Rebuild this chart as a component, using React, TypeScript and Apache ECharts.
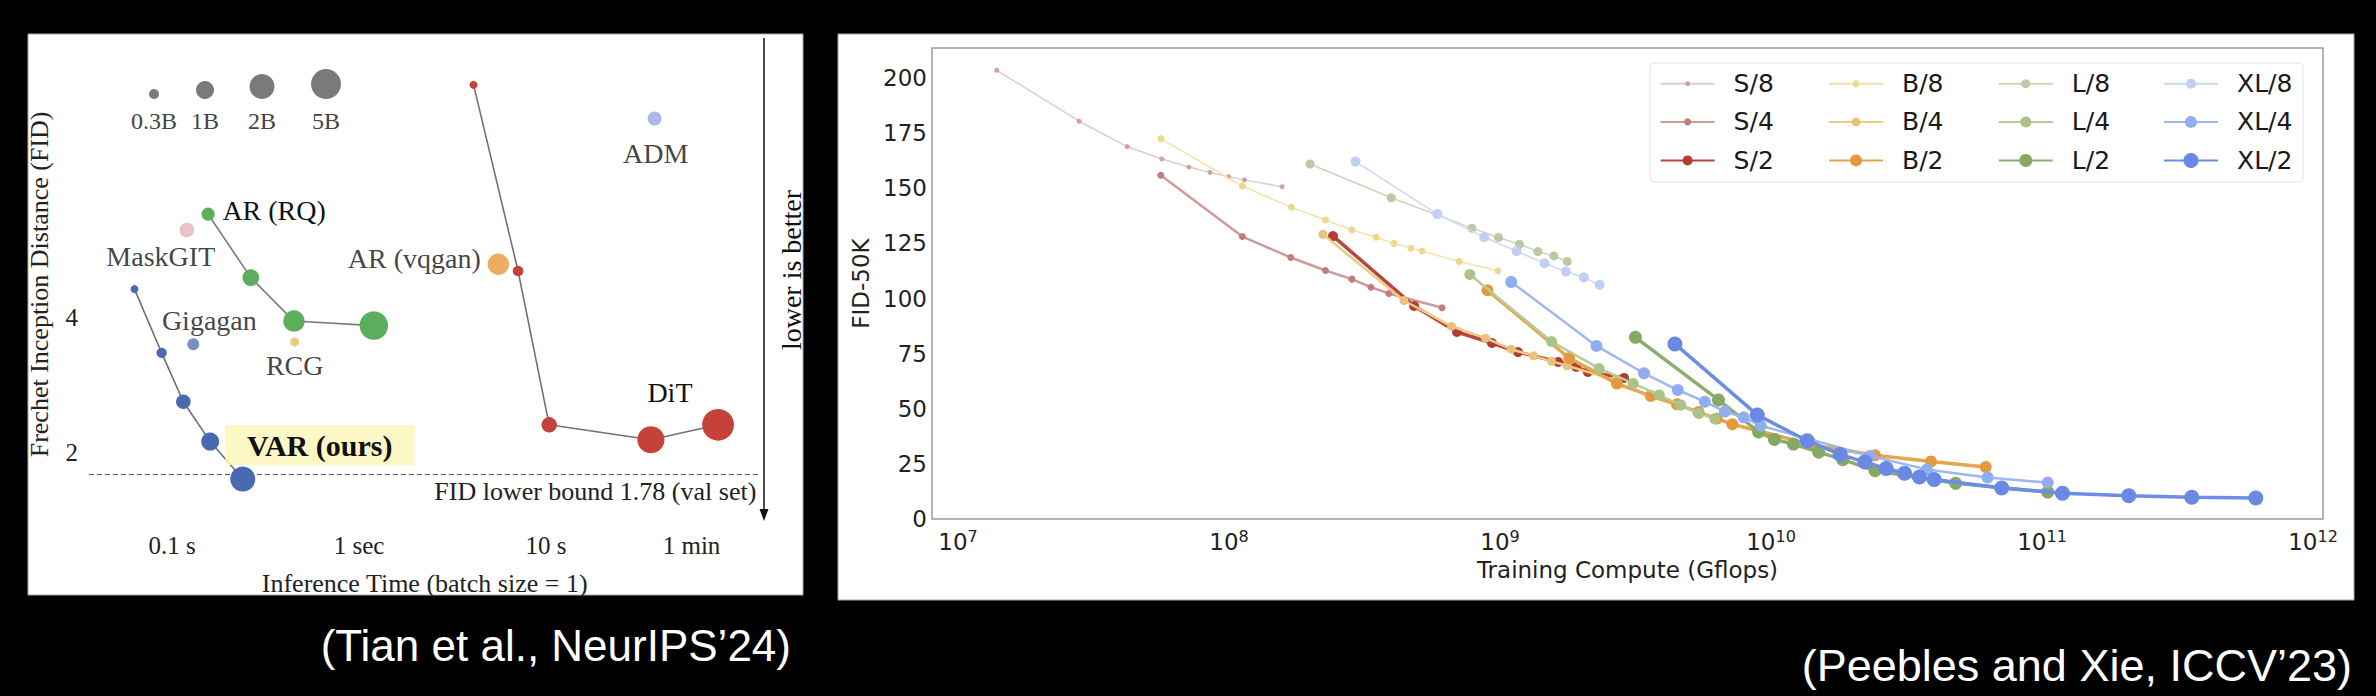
import React, { useEffect, useRef } from 'react';
import * as echarts from 'echarts';

const W = 2376;
const H = 696;

// ================= Left chart (Tian et al., NeurIPS'24) =================
const sizeLegendParams = [0.3, 1, 2, 5];
const sizeLegendLabels = ['0.3B', '1B', '2B', '5B'];

const varTime = [0.063, 0.088, 0.115, 0.16, 0.239];
const varFid = [4.62, 3.33, 2.59, 2.11, 1.74];
const varParams = [0.15, 0.31, 0.6, 1.0, 2.0];

const rqTime = [0.156, 0.264, 0.449, 1.2];
const rqFid = [6.79, 4.9, 3.92, 3.83];
const rqParams = [0.48, 0.82, 1.4, 3.8];

const ditTime = [4.1, 7.09, 10.4, 36.4, 83.2];
const ditFid = [13.2, 5.07, 2.3, 2.13, 2.3];
const ditParams = [0.13, 0.33, 0.675, 3, 7];

const singleNames = ['MaskGIT', 'Gigagan', 'RCG', 'AR (vqgan)', 'ADM'];
const singleTime = [0.12, 0.13, 0.453, 5.56, 38.1];
const singleFid = [6.26, 3.48, 3.52, 5.25, 11.1];
const singleParams = [0.6, 0.4, 0.25, 1.4, 0.55];

const fidLowerBound = 1.78;
const timeTicks = [0.1, 1, 10, 60];
const timeTickLabels = ['0.1 s', '1 sec', '10 s', '1 min'];
const fidTicks = [2, 4];

// ================= Right chart (Peebles and Xie, ICCV'23) =================
const modelNames = ['S/8', 'S/4', 'S/2', 'B/8', 'B/4', 'B/2', 'L/8', 'L/4', 'L/2', 'XL/8', 'XL/4', 'XL/2'];

const s8Flops = [1.39e7, 2.8e7, 4.21e7, 5.65e7, 7.11e7, 8.51e7, 9.97e7, 1.14e8, 1.57e8];
const s8Fid = [203.5, 180.4, 168.9, 163.3, 159.6, 157.2, 155.2, 153.8, 150.7];
const s4Flops = [5.6e7, 1.12e8, 1.69e8, 2.27e8, 2.84e8, 3.34e8, 3.89e8, 6.11e8];
const s4Fid = [155.9, 128.1, 118.6, 112.7, 108.8, 105.1, 102.3, 95.8];
const s2Flops = [2.42e8, 4.82e8, 6.94e8, 9.34e8, 1.165e9, 1.64e9, 1.91e9, 2.11e9, 2.87e9];
const s2Fid = [128.3, 96.6, 84.8, 79.8, 75.7, 71.2, 69.0, 66.7, 64.0];

const b8Flops = [5.61e7, 1.12e8, 1.7e8, 2.27e8, 2.84e8, 3.49e8, 4.06e8, 4.69e8, 5.15e8, 7.06e8, 9.83e8];
const b8Fid = [172.5, 151.0, 141.4, 135.6, 131.1, 127.8, 125.0, 122.8, 121.5, 116.8, 112.6];
const b4Flops = [2.22e8, 4.42e8, 6.62e8, 8.85e8, 1.1e9, 1.33e9, 1.55e9, 1.77e9, 2.66e9];
const b4Fid = [129.1, 99.1, 87.4, 82.0, 77.0, 74.0, 71.5, 69.5, 63.0];
const b2Flops = [9.0e8, 1.8e9, 2.7e9, 3.6e9, 4.5e9, 5.4e9, 6.3e9, 7.2e9, 1.44e10, 2.42e10, 3.89e10, 6.2e10];
const b2Fid = [103.7, 73.0, 61.4, 55.8, 52.0, 48.5, 45.5, 43.0, 33.5, 28.9, 26.1, 23.6];

const l8Flops = [1.99e8, 3.97e8, 7.88e8, 9.87e8, 1.18e9, 1.38e9, 1.58e9, 1.77e9];
const l8Fid = [161.0, 145.7, 131.9, 127.7, 124.6, 121.3, 119.3, 116.8];
const l4Flops = [7.74e8, 1.55e9, 2.32e9, 3.1e9, 3.87e9, 4.64e9, 5.42e9, 6.2e9];
const l4Fid = [110.9, 80.5, 68.3, 61.5, 56.2, 51.7, 47.9, 45.5];
const l2Flops = [3.16e9, 6.4e9, 9.0e9, 1.03e10, 1.21e10, 1.5e10, 1.84e10, 2.42e10, 4.8e10, 1.05e11];
const l2Fid = [82.4, 54.0, 39.5, 36.1, 34.0, 30.3, 26.9, 21.9, 16.2, 12.2];

const xl8Flops = [2.93e8, 5.87e8, 8.74e8, 1.15e9, 1.46e9, 1.75e9, 2.04e9, 2.33e9];
const xl8Fid = [162.1, 138.3, 127.8, 121.5, 116.0, 112.2, 109.6, 106.2];
const xl4Flops = [1.1e9, 2.27e9, 3.4e9, 4.53e9, 5.7e9, 6.76e9, 7.93e9, 9.16e9, 2.32e10, 3.76e10, 6.3e10, 1.05e11];
const xl4Fid = [107.5, 78.5, 66.1, 58.5, 53.2, 48.7, 46.1, 42.3, 28.6, 22.5, 18.8, 16.5];
const xl2Flops = [4.42e9, 8.9e9, 1.36e10, 1.8e10, 2.22e10, 2.66e10, 3.11e10, 3.53e10, 4.0e10, 7.1e10, 1.19e11, 2.09e11, 3.57e11, 6.15e11];
const xl2Fid = [79.4, 47.2, 35.5, 29.3, 25.8, 22.9, 20.8, 19.0, 17.9, 14.1, 11.7, 10.5, 9.9, 9.5];

const modelFlops = [s8Flops, s4Flops, s2Flops, b8Flops, b4Flops, b2Flops, l8Flops, l4Flops, l2Flops, xl8Flops, xl4Flops, xl2Flops];
const modelFid = [s8Fid, s4Fid, s2Fid, b8Fid, b4Fid, b2Fid, l8Fid, l4Fid, l2Fid, xl8Fid, xl4Fid, xl2Fid];

const fidAxisStep = 25;

// ================= Styles / layout =================
const SERIF = '"Liberation Serif", "Times New Roman", serif';
const SANS = '"DejaVu Sans", sans-serif';
const CAPTION = '"Liberation Sans", Arial, sans-serif';

const lineColors = ['#d9cfcf', '#cf9a9a', '#b9463e', '#f2e2a4', '#eccb85', '#e5a64e', '#cdd5bc', '#b6cb95', '#8bae6c', '#c9d8f5', '#9db7f1', '#6d8ce6'];
const markerColors = ['#d4a0a0', '#c27c7c', '#b13d36', '#ecd88e', '#e8c278', '#e39a3e', '#bccaa4', '#abc38a', '#85a963', '#bfd0f4', '#8fadf0', '#6989e5'];
const markerSizes = [5, 7, 10, 7, 9, 12, 9, 11, 13, 10, 12, 15];
const lineWidthsByPatch = [1.5, 2.5, 3.5];

const singleColors = ['#e3b3b6', '#5a72b5', '#e3bc66', '#e8963c', '#93abe2'];
const singleLabelOffsets = [[-26, 27], [16, -24], [0, 23], [-84, -6], [1, 35]];

// left chart pixel mapping
const L_T1_X = 359;
const L_PX_DEC_X = 187;
const L_F2_Y = 452;
const L_PX_DEC_Y = 448;
const L_TMIN = 0.036;
const L_TMAX = 140;
const L_FMIN = 1.4;
const L_FMAX = 16;
const lgLeft = L_T1_X + L_PX_DEC_X * Math.log10(L_TMIN);
const lgRightPx = L_T1_X + L_PX_DEC_X * Math.log10(L_TMAX);
const lgTop = L_F2_Y - L_PX_DEC_Y * (Math.log10(L_FMAX) - Math.log10(2));
const lgBottomPx = L_F2_Y + L_PX_DEC_Y * (Math.log10(2) - Math.log10(L_FMIN));

// right chart pixel mapping
const R_X7 = 958;
const R_PX_DEC = 271;
const R_LEFT = 932;
const R_RIGHT = 2323;
const R_TOP = 48;
const R_BOTTOM = 519;
const R_PX_PER_FID = 2.205;
const R_XMIN = Math.pow(10, 7 + (R_LEFT - R_X7) / R_PX_DEC);
const R_XMAX = Math.pow(10, 7 + (R_RIGHT - R_X7) / R_PX_DEC);
const R_YMAX = (R_BOTTOM - R_TOP) / R_PX_PER_FID;

const SIZE_ANCHORS: [number, number][] = [[0.3, 10], [1, 18], [2, 25], [5, 30]];
function sizeFor(b: number): number {
  let i = 0;
  if (b >= 2) i = 2;
  else if (b >= 1) i = 1;
  const [b0, s0] = SIZE_ANCHORS[i];
  const [b1, s1] = SIZE_ANCHORS[i + 1];
  const s = s0 + ((s1 - s0) * (Math.log10(b) - Math.log10(b0))) / (Math.log10(b1) - Math.log10(b0));
  return Math.max(8, s);
}

function buildOption(): any {
  const labelBase = { fontFamily: SERIF, fontSize: 28, color: '#111' };

  const varData = varTime.map((t, i) => {
    const item: any = { value: [t, varFid[i]], symbolSize: sizeFor(varParams[i]) };
    if (i === varTime.length - 1) {
      item.label = {
        show: true, position: 'inside', offset: [77, -34], formatter: 'VAR (ours)',
        fontFamily: SERIF, fontSize: 30, fontWeight: 'bold', color: '#111',
        backgroundColor: 'rgba(253,246,188,0.85)', padding: [5, 22, 5, 22],
      };
    }
    return item;
  });
  const rqData = rqTime.map((t, i) => {
    const item: any = { value: [t, rqFid[i]], symbolSize: sizeFor(rqParams[i]) };
    if (i === 0) item.label = { show: true, position: 'inside', offset: [66, -4], formatter: 'AR (RQ)', ...labelBase };
    return item;
  });
  const ditData = ditTime.map((t, i) => {
    const item: any = { value: [t, ditFid[i]], symbolSize: sizeFor(ditParams[i]) };
    if (i === 3) item.label = { show: true, position: 'inside', offset: [19, -47], formatter: 'DiT', ...labelBase };
    return item;
  });

  const leftSeries: any[] = [
    {
      name: 'VAR', type: 'line', xAxisIndex: 0, yAxisIndex: 0, data: varData, symbol: 'circle',
      lineStyle: { color: '#6f6f6f', width: 1.6 }, itemStyle: { color: '#4a69b3' }, z: 5,
      markLine: {
        silent: true, symbol: 'none',
        lineStyle: { type: [5, 3], color: '#555', width: 1 },
        label: {
          show: true, position: 'insideEndBottom', formatter: 'FID lower bound 1.78 (val set)',
          fontFamily: SERIF, fontSize: 26, color: '#222', distance: 4,
        },
        data: [{ yAxis: fidLowerBound }],
      },
    },
    {
      name: 'AR (RQ)', type: 'line', xAxisIndex: 0, yAxisIndex: 0, data: rqData, symbol: 'circle',
      lineStyle: { color: '#7a7a7a', width: 1.6 }, itemStyle: { color: '#5cae5c' }, z: 4,
    },
    {
      name: 'DiT', type: 'line', xAxisIndex: 0, yAxisIndex: 0, data: ditData, symbol: 'circle',
      lineStyle: { color: '#7a6e6e', width: 1.6 }, itemStyle: { color: '#c4423a' }, z: 4,
    },
  ];
  singleNames.forEach((n, i) => {
    leftSeries.push({
      name: n, type: 'scatter', xAxisIndex: 0, yAxisIndex: 0,
      data: [{ value: [singleTime[i], singleFid[i]], symbolSize: sizeFor(singleParams[i]) }],
      itemStyle: { color: singleColors[i] }, z: 4,
      label: { show: true, position: 'inside', offset: singleLabelOffsets[i], formatter: n, ...labelBase },
    });
  });

  const rightSeries: any[] = modelNames.map((n, k) => ({
    name: n, type: 'line', xAxisIndex: 1, yAxisIndex: 1,
    data: modelFlops[k].map((x, i) => [x, modelFid[k][i]]),
    symbol: 'circle', symbolSize: markerSizes[k], showSymbol: true,
    lineStyle: { color: lineColors[k], width: lineWidthsByPatch[k % 3] },
    itemStyle: { color: markerColors[k] },
    z: 3 + k * 0.01,
  }));

  // legends, one per item (column = model family, row = patch size)
  const iconCenters = [1686.6, 1855, 2024.8, 2190];
  const rowCenters = [83.7, 121.9, 160.4];
  const legends = modelNames.map((n, k) => ({
    data: [n], selectedMode: false, orient: 'vertical',
    left: iconCenters[Math.floor(k / 3)] - 27, top: rowCenters[k % 3] - 15,
    itemWidth: 54, itemHeight: markerSizes[k] / 0.8, padding: 0,
    textStyle: { fontFamily: SANS, fontSize: 25, color: '#1a1a1a', lineHeight: 30, padding: [0, 0, 0, 14] },
  }));

  const sizeLegendX = [154, 205, 262, 326];
  const graphic: any[] = [
    { type: 'rect', z: -10, shape: { x: 28, y: 34, width: 775, height: 561 }, style: { fill: '#fff', stroke: '#aaa', lineWidth: 1 } },
    { type: 'rect', z: -10, shape: { x: 838, y: 34, width: 1516, height: 566 }, style: { fill: '#fff', stroke: '#aaa', lineWidth: 1 } },
    { type: 'rect', z: 3, shape: { x: 1650, y: 63, width: 653, height: 119, r: 4 }, style: { fill: 'rgba(255,255,255,0.85)', stroke: '#e2e2e2', lineWidth: 1 } },
    // lower is better arrow
    { type: 'line', z: 5, shape: { x1: 764, y1: 38, x2: 764, y2: 512 }, style: { stroke: '#111', lineWidth: 1.5 } },
    { type: 'polygon', z: 5, shape: { points: [[759.5, 509], [768.5, 509], [764, 521]] }, style: { fill: '#111' } },
    {
      type: 'text', z: 5, x: 791, y: 270, rotation: Math.PI / 2,
      style: { text: 'lower is better', font: `28px ${SERIF}`, fill: '#111', align: 'center', verticalAlign: 'middle' },
    },
    {
      type: 'text', z: 5, x: 791, y: 645,
      style: { text: '(Tian et al., NeurIPS\u201924)', font: `44px ${CAPTION}`, fill: '#fff', align: 'right', verticalAlign: 'middle' },
    },
    {
      type: 'text', z: 5, x: 2352, y: 665,
      style: { text: '(Peebles and Xie, ICCV\u201923)', font: `45px ${CAPTION}`, fill: '#fff', align: 'right', verticalAlign: 'middle' },
    },
  ];
  sizeLegendParams.forEach((p, i) => {
    const r = sizeFor(p) / 2;
    graphic.push({ type: 'circle', z: 5, shape: { cx: sizeLegendX[i], cy: 99 - r, r }, style: { fill: '#7a7a7a' } });
    graphic.push({
      type: 'text', z: 5, x: sizeLegendX[i], y: 121,
      style: { text: sizeLegendLabels[i], font: `24px ${SERIF}`, fill: '#444', align: 'center', verticalAlign: 'middle' },
    });
  });

  const timeFormatter = (v: number) => {
    for (let i = 0; i < timeTicks.length; i++) {
      if (Math.abs(Math.log10(v / timeTicks[i])) < 0.01) return timeTickLabels[i];
    }
    return '';
  };
  const fidFormatter = (v: number) => {
    for (let i = 0; i < fidTicks.length; i++) {
      if (Math.abs(v - fidTicks[i]) < 0.01) return String(fidTicks[i]);
    }
    return '';
  };
  const powFormatter = (v: number) => {
    const lg = Math.log10(v);
    const e = Math.round(lg);
    if (Math.abs(lg - e) > 1e-6) return '';
    return `{b|10}{s|${e}}`;
  };

  return {
    animation: false,
    backgroundColor: '#000',
    grid: [
      { left: lgLeft, top: lgTop, width: lgRightPx - lgLeft, height: lgBottomPx - lgTop, show: false },
      {
        left: R_LEFT, top: R_TOP, width: R_RIGHT - R_LEFT, height: R_BOTTOM - R_TOP,
        show: true, borderColor: '#9a9a9a', borderWidth: 1.5, backgroundColor: 'transparent',
      },
    ],
    xAxis: [
      {
        gridIndex: 0, type: 'log', logBase: 10, min: L_TMIN, max: L_TMAX,
        axisLine: { show: false }, axisTick: { show: false }, splitLine: { show: false },
        axisLabel: { customValues: timeTicks, formatter: timeFormatter, fontFamily: SERIF, fontSize: 25, color: '#222', margin: 12 },
        name: 'Inference Time (batch size = 1)', nameLocation: 'middle', nameGap: 49,
        nameTextStyle: { fontFamily: SERIF, fontSize: 26, color: '#222' },
      },
      {
        gridIndex: 1, type: 'log', logBase: 10, min: R_XMIN, max: R_XMAX,
        axisLine: { show: false }, axisTick: { show: false }, splitLine: { show: false },
        axisLabel: {
          formatter: powFormatter, margin: 9,
          rich: {
            b: { fontFamily: SANS, fontSize: 23, color: '#222', lineHeight: 28 },
            s: { fontFamily: SANS, fontSize: 16, color: '#222', lineHeight: 14, verticalAlign: 'top' },
          },
        },
        name: 'Training Compute (Gflops)', nameLocation: 'middle', nameGap: 39,
        nameTextStyle: { fontFamily: SANS, fontSize: 23, color: '#222' },
      },
    ],
    yAxis: [
      {
        gridIndex: 0, type: 'log', logBase: 10, min: L_FMIN, max: L_FMAX,
        axisLine: { show: false }, axisTick: { show: false }, splitLine: { show: false },
        axisLabel: { customValues: fidTicks, formatter: fidFormatter, fontFamily: SERIF, fontSize: 25, color: '#222', margin: 11 },
        name: 'Frechet Inception Distance (FID)', nameLocation: 'middle', nameGap: 37,
        nameTextStyle: { fontFamily: SERIF, fontSize: 26, color: '#222' },
      },
      {
        gridIndex: 1, type: 'value', min: 0, max: R_YMAX, interval: fidAxisStep,
        axisLine: { show: false }, axisTick: { show: false }, splitLine: { show: false },
        axisLabel: {
          formatter: (v: number) => (Math.abs(v / fidAxisStep - Math.round(v / fidAxisStep)) < 1e-6 ? String(Math.round(v)) : ''),
          fontFamily: SANS, fontSize: 23, color: '#222', margin: 5,
        },
        name: 'FID-50K', nameLocation: 'middle', nameGap: 56,
        nameTextStyle: { fontFamily: SANS, fontSize: 23, color: '#222' },
      },
    ],
    legend: legends,
    graphic,
    series: [...leftSeries, ...rightSeries],
  };
}

export default function App() {
  const ref = useRef<HTMLDivElement>(null);
  useEffect(() => {
    if (!ref.current) return;
    const chart = echarts.init(ref.current, null, { renderer: 'svg', width: W, height: H });
    chart.setOption(buildOption());
    return () => chart.dispose();
  }, []);
  return (
    <div style={{ position: 'fixed', left: 0, top: 0, width: W, height: H, background: '#000' }}>
      <div ref={ref} style={{ width: W, height: H }} />
    </div>
  );
}
